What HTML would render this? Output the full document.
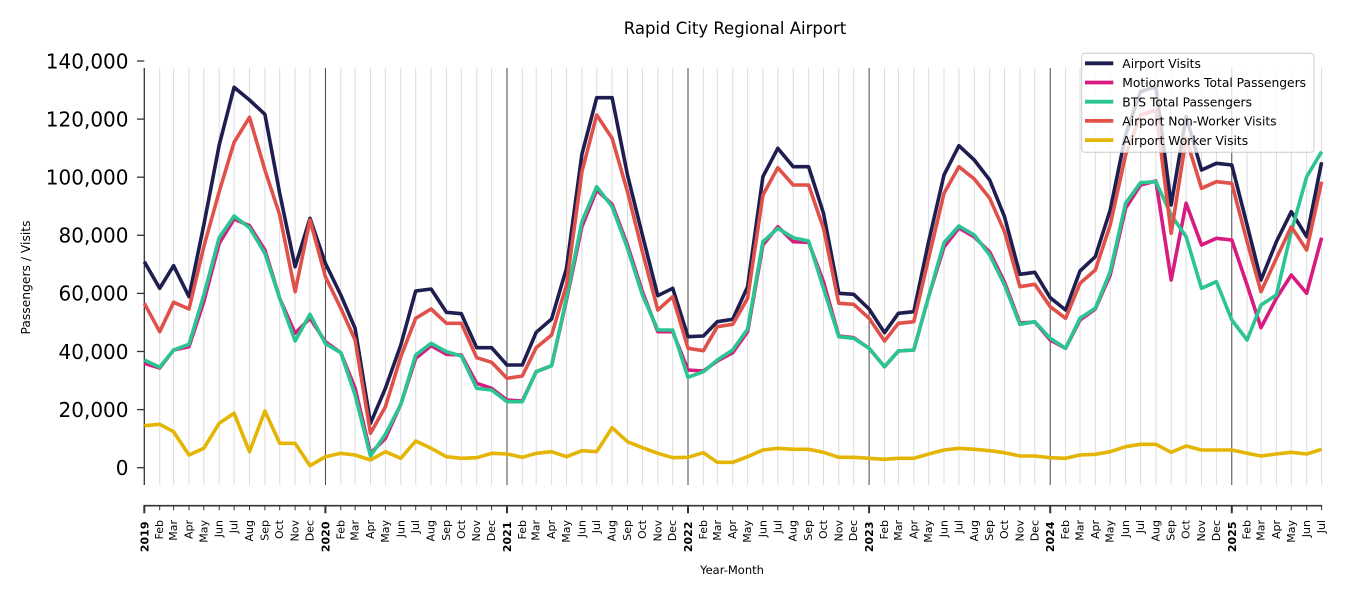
<!DOCTYPE html>
<html>
<head>
<meta charset="utf-8">
<style>
html,body{margin:0;padding:0;background:#fff;}
svg{display:block;}
text{font-family:"DejaVu Sans","Liberation Sans",sans-serif;fill:#000;}
</style>
</head>
<body>
<svg width="1350" height="600" viewBox="0 0 1350 600" xmlns="http://www.w3.org/2000/svg">
<rect x="0" y="0" width="1350" height="600" fill="#fff"/>

<!-- Title -->
<text x="735" y="34" font-size="16.5" text-anchor="middle">Rapid City Regional Airport</text>

<!-- month gridlines -->
<g stroke="#dcdcdc" stroke-width="1">
<line x1="159.7" y1="68" x2="159.7" y2="485"/><line x1="173.6" y1="68" x2="173.6" y2="485"/><line x1="189.0" y1="68" x2="189.0" y2="485"/><line x1="203.8" y1="68" x2="203.8" y2="485"/><line x1="219.2" y1="68" x2="219.2" y2="485"/><line x1="234.1" y1="68" x2="234.1" y2="485"/><line x1="249.5" y1="68" x2="249.5" y2="485"/><line x1="264.9" y1="68" x2="264.9" y2="485"/><line x1="279.7" y1="68" x2="279.7" y2="485"/><line x1="295.1" y1="68" x2="295.1" y2="485"/><line x1="310.0" y1="68" x2="310.0" y2="485"/>
<line x1="340.8" y1="68" x2="340.8" y2="485"/><line x1="355.1" y1="68" x2="355.1" y2="485"/><line x1="370.5" y1="68" x2="370.5" y2="485"/><line x1="385.4" y1="68" x2="385.4" y2="485"/><line x1="400.8" y1="68" x2="400.8" y2="485"/><line x1="415.7" y1="68" x2="415.7" y2="485"/><line x1="431.1" y1="68" x2="431.1" y2="485"/><line x1="446.4" y1="68" x2="446.4" y2="485"/><line x1="461.3" y1="68" x2="461.3" y2="485"/><line x1="476.7" y1="68" x2="476.7" y2="485"/><line x1="491.6" y1="68" x2="491.6" y2="485"/>
<line x1="522.3" y1="68" x2="522.3" y2="485"/><line x1="536.2" y1="68" x2="536.2" y2="485"/><line x1="551.6" y1="68" x2="551.6" y2="485"/><line x1="566.5" y1="68" x2="566.5" y2="485"/><line x1="581.9" y1="68" x2="581.9" y2="485"/><line x1="596.7" y1="68" x2="596.7" y2="485"/><line x1="612.1" y1="68" x2="612.1" y2="485"/><line x1="627.5" y1="68" x2="627.5" y2="485"/><line x1="642.4" y1="68" x2="642.4" y2="485"/><line x1="657.8" y1="68" x2="657.8" y2="485"/><line x1="672.7" y1="68" x2="672.7" y2="485"/>
<line x1="703.4" y1="68" x2="703.4" y2="485"/><line x1="717.3" y1="68" x2="717.3" y2="485"/><line x1="732.7" y1="68" x2="732.7" y2="485"/><line x1="747.6" y1="68" x2="747.6" y2="485"/><line x1="762.9" y1="68" x2="762.9" y2="485"/><line x1="777.8" y1="68" x2="777.8" y2="485"/><line x1="793.2" y1="68" x2="793.2" y2="485"/><line x1="808.6" y1="68" x2="808.6" y2="485"/><line x1="823.5" y1="68" x2="823.5" y2="485"/><line x1="838.8" y1="68" x2="838.8" y2="485"/><line x1="853.7" y1="68" x2="853.7" y2="485"/>
<line x1="884.5" y1="68" x2="884.5" y2="485"/><line x1="898.4" y1="68" x2="898.4" y2="485"/><line x1="913.8" y1="68" x2="913.8" y2="485"/><line x1="928.6" y1="68" x2="928.6" y2="485"/><line x1="944.0" y1="68" x2="944.0" y2="485"/><line x1="958.9" y1="68" x2="958.9" y2="485"/><line x1="974.3" y1="68" x2="974.3" y2="485"/><line x1="989.7" y1="68" x2="989.7" y2="485"/><line x1="1004.5" y1="68" x2="1004.5" y2="485"/><line x1="1019.9" y1="68" x2="1019.9" y2="485"/><line x1="1034.8" y1="68" x2="1034.8" y2="485"/>
<line x1="1065.6" y1="68" x2="1065.6" y2="485"/><line x1="1080.0" y1="68" x2="1080.0" y2="485"/><line x1="1095.3" y1="68" x2="1095.3" y2="485"/><line x1="1110.2" y1="68" x2="1110.2" y2="485"/><line x1="1125.6" y1="68" x2="1125.6" y2="485"/><line x1="1140.5" y1="68" x2="1140.5" y2="485"/><line x1="1155.9" y1="68" x2="1155.9" y2="485"/><line x1="1171.2" y1="68" x2="1171.2" y2="485"/><line x1="1186.1" y1="68" x2="1186.1" y2="485"/><line x1="1201.5" y1="68" x2="1201.5" y2="485"/><line x1="1216.4" y1="68" x2="1216.4" y2="485"/>
<line x1="1247.1" y1="68" x2="1247.1" y2="485"/><line x1="1261.0" y1="68" x2="1261.0" y2="485"/><line x1="1276.4" y1="68" x2="1276.4" y2="485"/><line x1="1291.3" y1="68" x2="1291.3" y2="485"/><line x1="1306.7" y1="68" x2="1306.7" y2="485"/><line x1="1321.6" y1="68" x2="1321.6" y2="485"/>
</g>
<!-- year lines -->
<g stroke="#333" stroke-width="0.9">
<line x1="325.4" y1="68" x2="325.4" y2="485"/><line x1="507.0" y1="68" x2="507.0" y2="485"/><line x1="688.0" y1="68" x2="688.0" y2="485"/><line x1="869.1" y1="68" x2="869.1" y2="485"/><line x1="1050.2" y1="68" x2="1050.2" y2="485"/><line x1="1231.8" y1="68" x2="1231.8" y2="485"/>
</g>

<!-- left spine and y ticks -->
<g stroke="#333" stroke-width="1.3">
<line x1="144.3" y1="68" x2="144.3" y2="485"/>
<line x1="137" y1="467.7" x2="144.3" y2="467.7"/>
<line x1="137" y1="409.6" x2="144.3" y2="409.6"/>
<line x1="137" y1="351.5" x2="144.3" y2="351.5"/>
<line x1="137" y1="293.4" x2="144.3" y2="293.4"/>
<line x1="137" y1="235.3" x2="144.3" y2="235.3"/>
<line x1="137" y1="177.2" x2="144.3" y2="177.2"/>
<line x1="137" y1="119.1" x2="144.3" y2="119.1"/>
<line x1="137" y1="61.0" x2="144.3" y2="61.0"/>
</g>
<g font-size="20" text-anchor="end">
<text x="128.5" y="475.0">0</text>
<text x="128.5" y="416.9">20,000</text>
<text x="128.5" y="358.8">40,000</text>
<text x="128.5" y="300.7">60,000</text>
<text x="128.5" y="242.6">80,000</text>
<text x="128.5" y="184.5">100,000</text>
<text x="128.5" y="126.4">120,000</text>
<text x="128.5" y="68.3">140,000</text>
</g>
<text transform="translate(30,277.5) rotate(-90)" font-size="12.3" text-anchor="middle">Passengers / Visits</text>

<!-- series -->
<g fill="none" stroke-width="3.6" stroke-linejoin="round" stroke-linecap="butt">
<polyline stroke="#1e1f50" points="144.3,261.7 159.7,288.3 173.6,265.7 189.0,296.7 203.8,225 219.2,145 234.1,87.3 249.5,100 264.9,114.3 279.7,193.3 295.1,266.7 310.0,218.3 325.4,263.3 340.8,295 355.1,328.3 370.5,423.3 385.4,388.3 400.8,345 415.7,291 431.1,289 446.4,312.3 461.3,313.7 476.7,347.7 491.6,347.7 507.0,365 522.3,365 536.2,332.3 551.6,319 566.5,268.3 581.9,154.3 596.7,97.7 612.1,97.7 627.5,175 642.4,235 657.8,295.7 672.7,288.3 688.0,336.7 703.4,336 717.3,321.7 732.7,319.3 747.6,286.7 762.9,176.7 777.8,148.3 793.2,166.7 808.6,166.7 823.5,213.3 838.8,293.3 853.7,294.3 869.1,309 884.5,332.7 898.4,313.3 913.8,311.7 928.6,241.7 944.0,175 958.9,145.7 974.3,160 989.7,180 1004.5,216.7 1019.9,274.3 1034.8,272.3 1050.2,297.7 1065.6,310 1080.0,271 1095.3,256.7 1110.2,210 1125.6,135 1140.5,91.7 1155.9,86.7 1171.2,205 1186.1,116.7 1201.5,170 1216.4,163.3 1231.8,165 1247.1,225 1261.0,280 1276.4,241.7 1291.3,211.7 1306.7,236.7 1321.6,162.3"/>
<polyline stroke="#d81b80" points="144.3,363.3 159.7,368 173.6,350 189.0,346.7 203.8,301.7 219.2,243.3 234.1,219 249.5,225.7 264.9,250 279.7,298.3 295.1,333.3 310.0,318.3 325.4,341.7 340.8,352.7 355.1,388.3 370.5,453.3 385.4,438.3 400.8,404.3 415.7,358.3 431.1,345.7 446.4,354.3 461.3,355 476.7,383.3 491.6,388.3 507.0,400 522.3,401 536.2,371.7 551.6,365.7 566.5,300 581.9,226.7 596.7,190 612.1,204.3 627.5,245 642.4,291.7 657.8,331.7 672.7,331.7 688.0,370 703.4,371 717.3,361 732.7,352.7 747.6,331.7 762.9,245 777.8,226.7 793.2,241.7 808.6,242.3 823.5,281.7 838.8,336 853.7,337.7 869.1,348.3 884.5,366.7 898.4,351 913.8,350 928.6,296.7 944.0,247 958.9,228 974.3,237 989.7,252 1004.5,282 1019.9,323 1034.8,322 1050.2,340 1065.6,348.3 1080.0,320 1095.3,309 1110.2,275 1125.6,208.3 1140.5,185 1155.9,181 1171.2,280 1186.1,203.3 1201.5,245 1216.4,238.3 1231.8,240 1247.1,285 1261.0,327.7 1276.4,298.3 1291.3,275 1306.7,293.3 1321.6,237.7"/>
<polyline stroke="#2bc493" points="144.3,360 159.7,367.3 173.6,350 189.0,344.3 203.8,295 219.2,237.7 234.1,216 249.5,227.7 264.9,253.3 279.7,298.3 295.1,341 310.0,314.3 325.4,343.7 340.8,352.7 355.1,395 370.5,456 385.4,434.3 400.8,404.3 415.7,355 431.1,343.3 446.4,351.7 461.3,356 476.7,388.3 491.6,390 507.0,401.7 522.3,401.7 536.2,371.7 551.6,365.7 566.5,298 581.9,221.7 596.7,186.7 612.1,206.7 627.5,248.3 642.4,295 657.8,330 672.7,330 688.0,377.3 703.4,371.7 717.3,360 732.7,350 747.6,329 762.9,241.7 777.8,228.3 793.2,237.7 808.6,241 823.5,288.3 838.8,336.7 853.7,338.3 869.1,348.3 884.5,366.7 898.4,351 913.8,350 928.6,296.7 944.0,242.7 958.9,226 974.3,235 989.7,255 1004.5,285 1019.9,324.3 1034.8,321.7 1050.2,338.3 1065.6,348.3 1080.0,318.3 1095.3,308.3 1110.2,271.7 1125.6,203.3 1140.5,182.7 1155.9,181.7 1171.2,215 1186.1,236.7 1201.5,288.3 1216.4,281.7 1231.8,320 1247.1,340 1261.0,305 1276.4,295 1291.3,231.7 1306.7,176.7 1321.6,151.7"/>
<polyline stroke="#e0514a" points="144.3,303.3 159.7,331.7 173.6,302.3 189.0,309 203.8,246.7 219.2,191.7 234.1,142.3 249.5,117.3 264.9,170 279.7,215 295.1,291.7 310.0,220 325.4,276.7 340.8,308.3 355.1,340 370.5,433.3 385.4,406.7 400.8,356.7 415.7,318.3 431.1,309 446.4,323.3 461.3,323.3 476.7,357.7 491.6,362.3 507.0,378.3 522.3,376 536.2,347.7 551.6,335 566.5,285 581.9,171.7 596.7,115 612.1,138.3 627.5,191.7 642.4,251.7 657.8,310 672.7,296.7 688.0,348.3 703.4,350.7 717.3,326.7 732.7,324.3 747.6,298.3 762.9,195 777.8,167.7 793.2,185 808.6,185 823.5,228.3 838.8,303.3 853.7,304.3 869.1,318.3 884.5,341 898.4,323.3 913.8,321.7 928.6,258.3 944.0,193.3 958.9,166.7 974.3,179 989.7,198.3 1004.5,231.7 1019.9,286.7 1034.8,284.3 1050.2,306.7 1065.6,318.3 1080.0,283.3 1095.3,270 1110.2,225 1125.6,155 1140.5,115 1155.9,110 1171.2,233.3 1186.1,138.3 1201.5,188.3 1216.4,181.7 1231.8,183.3 1247.1,241.7 1261.0,291.7 1276.4,258.3 1291.3,226.7 1306.7,250 1321.6,181.7"/>
<polyline stroke="#e4b505" points="144.3,425.7 159.7,424.3 173.6,431.7 189.0,455 203.8,448.3 219.2,423.3 234.1,413.3 249.5,451.7 264.9,411 279.7,443.3 295.1,443.3 310.0,465.7 325.4,456.7 340.8,453.3 355.1,455 370.5,460 385.4,451.7 400.8,458.3 415.7,441 431.1,448.3 446.4,456.7 461.3,458.3 476.7,457.7 491.6,453.3 507.0,454 522.3,457.3 536.2,453.3 551.6,451.7 566.5,456.7 581.9,450.7 596.7,451.7 612.1,427.7 627.5,441.7 642.4,447.7 657.8,453.3 672.7,457.7 688.0,457.3 703.4,452.7 717.3,462.3 732.7,462.3 747.6,456.7 762.9,450 777.8,448.3 793.2,449.3 808.6,449.3 823.5,452.3 838.8,457.3 853.7,457.3 869.1,458.3 884.5,459.3 898.4,458.3 913.8,458.3 928.6,454 944.0,450 958.9,448.3 974.3,449.3 989.7,450.7 1004.5,452.7 1019.9,456 1034.8,456 1050.2,457.7 1065.6,458.3 1080.0,455 1095.3,454.3 1110.2,451.7 1125.6,446.7 1140.5,444.3 1155.9,444.3 1171.2,452.3 1186.1,446 1201.5,450 1216.4,450 1231.8,450 1247.1,453.3 1261.0,456 1276.4,454 1291.3,452.3 1306.7,454 1321.6,449.3"/>
</g>

<!-- legend -->
<rect x="1081.7" y="53.3" width="232.3" height="99" rx="3" ry="3" fill="#fff" fill-opacity="0.8" stroke="#cccccc" stroke-width="1"/>
<g stroke-width="3.8">
<line x1="1085" y1="63.3" x2="1113.3" y2="63.3" stroke="#1e1f50"/>
<line x1="1085" y1="82.5" x2="1113.3" y2="82.5" stroke="#d81b80"/>
<line x1="1085" y1="101.7" x2="1113.3" y2="101.7" stroke="#2bc493"/>
<line x1="1085" y1="120.9" x2="1113.3" y2="120.9" stroke="#e0514a"/>
<line x1="1085" y1="140.1" x2="1113.3" y2="140.1" stroke="#e4b505"/>
</g>
<g font-size="12.3">
<text x="1122.3" y="68.0">Airport Visits</text>
<text x="1122.3" y="87.2">Motionworks Total Passengers</text>
<text x="1122.3" y="106.4">BTS Total Passengers</text>
<text x="1122.3" y="125.6">Airport Non-Worker Visits</text>
<text x="1122.3" y="144.8">Airport Worker Visits</text>
</g>

<!-- bottom spine + ticks -->
<line x1="143.5" y1="505.7" x2="1322.2" y2="505.7" stroke="#333" stroke-width="1.6"/>
<g stroke="#333" stroke-width="1">
<line x1="159.7" y1="505.7" x2="159.7" y2="510.3"/><line x1="173.6" y1="505.7" x2="173.6" y2="510.3"/><line x1="189.0" y1="505.7" x2="189.0" y2="510.3"/><line x1="203.8" y1="505.7" x2="203.8" y2="510.3"/><line x1="219.2" y1="505.7" x2="219.2" y2="510.3"/><line x1="234.1" y1="505.7" x2="234.1" y2="510.3"/><line x1="249.5" y1="505.7" x2="249.5" y2="510.3"/><line x1="264.9" y1="505.7" x2="264.9" y2="510.3"/><line x1="279.7" y1="505.7" x2="279.7" y2="510.3"/><line x1="295.1" y1="505.7" x2="295.1" y2="510.3"/><line x1="310.0" y1="505.7" x2="310.0" y2="510.3"/>
<line x1="340.8" y1="505.7" x2="340.8" y2="510.3"/><line x1="355.1" y1="505.7" x2="355.1" y2="510.3"/><line x1="370.5" y1="505.7" x2="370.5" y2="510.3"/><line x1="385.4" y1="505.7" x2="385.4" y2="510.3"/><line x1="400.8" y1="505.7" x2="400.8" y2="510.3"/><line x1="415.7" y1="505.7" x2="415.7" y2="510.3"/><line x1="431.1" y1="505.7" x2="431.1" y2="510.3"/><line x1="446.4" y1="505.7" x2="446.4" y2="510.3"/><line x1="461.3" y1="505.7" x2="461.3" y2="510.3"/><line x1="476.7" y1="505.7" x2="476.7" y2="510.3"/><line x1="491.6" y1="505.7" x2="491.6" y2="510.3"/>
<line x1="522.3" y1="505.7" x2="522.3" y2="510.3"/><line x1="536.2" y1="505.7" x2="536.2" y2="510.3"/><line x1="551.6" y1="505.7" x2="551.6" y2="510.3"/><line x1="566.5" y1="505.7" x2="566.5" y2="510.3"/><line x1="581.9" y1="505.7" x2="581.9" y2="510.3"/><line x1="596.7" y1="505.7" x2="596.7" y2="510.3"/><line x1="612.1" y1="505.7" x2="612.1" y2="510.3"/><line x1="627.5" y1="505.7" x2="627.5" y2="510.3"/><line x1="642.4" y1="505.7" x2="642.4" y2="510.3"/><line x1="657.8" y1="505.7" x2="657.8" y2="510.3"/><line x1="672.7" y1="505.7" x2="672.7" y2="510.3"/>
<line x1="703.4" y1="505.7" x2="703.4" y2="510.3"/><line x1="717.3" y1="505.7" x2="717.3" y2="510.3"/><line x1="732.7" y1="505.7" x2="732.7" y2="510.3"/><line x1="747.6" y1="505.7" x2="747.6" y2="510.3"/><line x1="762.9" y1="505.7" x2="762.9" y2="510.3"/><line x1="777.8" y1="505.7" x2="777.8" y2="510.3"/><line x1="793.2" y1="505.7" x2="793.2" y2="510.3"/><line x1="808.6" y1="505.7" x2="808.6" y2="510.3"/><line x1="823.5" y1="505.7" x2="823.5" y2="510.3"/><line x1="838.8" y1="505.7" x2="838.8" y2="510.3"/><line x1="853.7" y1="505.7" x2="853.7" y2="510.3"/>
<line x1="884.5" y1="505.7" x2="884.5" y2="510.3"/><line x1="898.4" y1="505.7" x2="898.4" y2="510.3"/><line x1="913.8" y1="505.7" x2="913.8" y2="510.3"/><line x1="928.6" y1="505.7" x2="928.6" y2="510.3"/><line x1="944.0" y1="505.7" x2="944.0" y2="510.3"/><line x1="958.9" y1="505.7" x2="958.9" y2="510.3"/><line x1="974.3" y1="505.7" x2="974.3" y2="510.3"/><line x1="989.7" y1="505.7" x2="989.7" y2="510.3"/><line x1="1004.5" y1="505.7" x2="1004.5" y2="510.3"/><line x1="1019.9" y1="505.7" x2="1019.9" y2="510.3"/><line x1="1034.8" y1="505.7" x2="1034.8" y2="510.3"/>
<line x1="1065.6" y1="505.7" x2="1065.6" y2="510.3"/><line x1="1080.0" y1="505.7" x2="1080.0" y2="510.3"/><line x1="1095.3" y1="505.7" x2="1095.3" y2="510.3"/><line x1="1110.2" y1="505.7" x2="1110.2" y2="510.3"/><line x1="1125.6" y1="505.7" x2="1125.6" y2="510.3"/><line x1="1140.5" y1="505.7" x2="1140.5" y2="510.3"/><line x1="1155.9" y1="505.7" x2="1155.9" y2="510.3"/><line x1="1171.2" y1="505.7" x2="1171.2" y2="510.3"/><line x1="1186.1" y1="505.7" x2="1186.1" y2="510.3"/><line x1="1201.5" y1="505.7" x2="1201.5" y2="510.3"/><line x1="1216.4" y1="505.7" x2="1216.4" y2="510.3"/>
<line x1="1247.1" y1="505.7" x2="1247.1" y2="510.3"/><line x1="1261.0" y1="505.7" x2="1261.0" y2="510.3"/><line x1="1276.4" y1="505.7" x2="1276.4" y2="510.3"/><line x1="1291.3" y1="505.7" x2="1291.3" y2="510.3"/><line x1="1306.7" y1="505.7" x2="1306.7" y2="510.3"/><line x1="1321.6" y1="505.7" x2="1321.6" y2="510.3"/>
</g>
<g stroke="#333" stroke-width="2">
<line x1="144.3" y1="505.7" x2="144.3" y2="513.3"/><line x1="325.4" y1="505.7" x2="325.4" y2="513.3"/><line x1="507.0" y1="505.7" x2="507.0" y2="513.3"/><line x1="688.0" y1="505.7" x2="688.0" y2="513.3"/><line x1="869.1" y1="505.7" x2="869.1" y2="513.3"/><line x1="1050.2" y1="505.7" x2="1050.2" y2="513.3"/><line x1="1231.8" y1="505.7" x2="1231.8" y2="513.3"/>
</g>

<!-- x tick labels -->
<g font-size="11" text-anchor="end">
<text transform="translate(144.3,521.5) rotate(-90)" y="4" font-weight="bold">2019</text>
<text transform="translate(159.7,520) rotate(-90)" y="3.5">Feb</text>
<text transform="translate(173.6,520) rotate(-90)" y="3.5">Mar</text>
<text transform="translate(189.0,520) rotate(-90)" y="3.5">Apr</text>
<text transform="translate(203.8,520) rotate(-90)" y="3.5">May</text>
<text transform="translate(219.2,520) rotate(-90)" y="3.5">Jun</text>
<text transform="translate(234.1,520) rotate(-90)" y="3.5">Jul</text>
<text transform="translate(249.5,520) rotate(-90)" y="3.5">Aug</text>
<text transform="translate(264.9,520) rotate(-90)" y="3.5">Sep</text>
<text transform="translate(279.7,520) rotate(-90)" y="3.5">Oct</text>
<text transform="translate(295.1,520) rotate(-90)" y="3.5">Nov</text>
<text transform="translate(310.0,520) rotate(-90)" y="3.5">Dec</text>
<text transform="translate(325.4,521.5) rotate(-90)" y="4" font-weight="bold">2020</text>
<text transform="translate(340.8,520) rotate(-90)" y="3.5">Feb</text>
<text transform="translate(355.1,520) rotate(-90)" y="3.5">Mar</text>
<text transform="translate(370.5,520) rotate(-90)" y="3.5">Apr</text>
<text transform="translate(385.4,520) rotate(-90)" y="3.5">May</text>
<text transform="translate(400.8,520) rotate(-90)" y="3.5">Jun</text>
<text transform="translate(415.7,520) rotate(-90)" y="3.5">Jul</text>
<text transform="translate(431.1,520) rotate(-90)" y="3.5">Aug</text>
<text transform="translate(446.4,520) rotate(-90)" y="3.5">Sep</text>
<text transform="translate(461.3,520) rotate(-90)" y="3.5">Oct</text>
<text transform="translate(476.7,520) rotate(-90)" y="3.5">Nov</text>
<text transform="translate(491.6,520) rotate(-90)" y="3.5">Dec</text>
<text transform="translate(507.0,521.5) rotate(-90)" y="4" font-weight="bold">2021</text>
<text transform="translate(522.3,520) rotate(-90)" y="3.5">Feb</text>
<text transform="translate(536.2,520) rotate(-90)" y="3.5">Mar</text>
<text transform="translate(551.6,520) rotate(-90)" y="3.5">Apr</text>
<text transform="translate(566.5,520) rotate(-90)" y="3.5">May</text>
<text transform="translate(581.9,520) rotate(-90)" y="3.5">Jun</text>
<text transform="translate(596.7,520) rotate(-90)" y="3.5">Jul</text>
<text transform="translate(612.1,520) rotate(-90)" y="3.5">Aug</text>
<text transform="translate(627.5,520) rotate(-90)" y="3.5">Sep</text>
<text transform="translate(642.4,520) rotate(-90)" y="3.5">Oct</text>
<text transform="translate(657.8,520) rotate(-90)" y="3.5">Nov</text>
<text transform="translate(672.7,520) rotate(-90)" y="3.5">Dec</text>
<text transform="translate(688.0,521.5) rotate(-90)" y="4" font-weight="bold">2022</text>
<text transform="translate(703.4,520) rotate(-90)" y="3.5">Feb</text>
<text transform="translate(717.3,520) rotate(-90)" y="3.5">Mar</text>
<text transform="translate(732.7,520) rotate(-90)" y="3.5">Apr</text>
<text transform="translate(747.6,520) rotate(-90)" y="3.5">May</text>
<text transform="translate(762.9,520) rotate(-90)" y="3.5">Jun</text>
<text transform="translate(777.8,520) rotate(-90)" y="3.5">Jul</text>
<text transform="translate(793.2,520) rotate(-90)" y="3.5">Aug</text>
<text transform="translate(808.6,520) rotate(-90)" y="3.5">Sep</text>
<text transform="translate(823.5,520) rotate(-90)" y="3.5">Oct</text>
<text transform="translate(838.8,520) rotate(-90)" y="3.5">Nov</text>
<text transform="translate(853.7,520) rotate(-90)" y="3.5">Dec</text>
<text transform="translate(869.1,521.5) rotate(-90)" y="4" font-weight="bold">2023</text>
<text transform="translate(884.5,520) rotate(-90)" y="3.5">Feb</text>
<text transform="translate(898.4,520) rotate(-90)" y="3.5">Mar</text>
<text transform="translate(913.8,520) rotate(-90)" y="3.5">Apr</text>
<text transform="translate(928.6,520) rotate(-90)" y="3.5">May</text>
<text transform="translate(944.0,520) rotate(-90)" y="3.5">Jun</text>
<text transform="translate(958.9,520) rotate(-90)" y="3.5">Jul</text>
<text transform="translate(974.3,520) rotate(-90)" y="3.5">Aug</text>
<text transform="translate(989.7,520) rotate(-90)" y="3.5">Sep</text>
<text transform="translate(1004.5,520) rotate(-90)" y="3.5">Oct</text>
<text transform="translate(1019.9,520) rotate(-90)" y="3.5">Nov</text>
<text transform="translate(1034.8,520) rotate(-90)" y="3.5">Dec</text>
<text transform="translate(1050.2,521.5) rotate(-90)" y="4" font-weight="bold">2024</text>
<text transform="translate(1065.6,520) rotate(-90)" y="3.5">Feb</text>
<text transform="translate(1080.0,520) rotate(-90)" y="3.5">Mar</text>
<text transform="translate(1095.3,520) rotate(-90)" y="3.5">Apr</text>
<text transform="translate(1110.2,520) rotate(-90)" y="3.5">May</text>
<text transform="translate(1125.6,520) rotate(-90)" y="3.5">Jun</text>
<text transform="translate(1140.5,520) rotate(-90)" y="3.5">Jul</text>
<text transform="translate(1155.9,520) rotate(-90)" y="3.5">Aug</text>
<text transform="translate(1171.2,520) rotate(-90)" y="3.5">Sep</text>
<text transform="translate(1186.1,520) rotate(-90)" y="3.5">Oct</text>
<text transform="translate(1201.5,520) rotate(-90)" y="3.5">Nov</text>
<text transform="translate(1216.4,520) rotate(-90)" y="3.5">Dec</text>
<text transform="translate(1231.8,521.5) rotate(-90)" y="4" font-weight="bold">2025</text>
<text transform="translate(1247.1,520) rotate(-90)" y="3.5">Feb</text>
<text transform="translate(1261.0,520) rotate(-90)" y="3.5">Mar</text>
<text transform="translate(1276.4,520) rotate(-90)" y="3.5">Apr</text>
<text transform="translate(1291.3,520) rotate(-90)" y="3.5">May</text>
<text transform="translate(1306.7,520) rotate(-90)" y="3.5">Jun</text>
<text transform="translate(1321.6,520) rotate(-90)" y="3.5">Jul</text>
</g>

<text x="732" y="574" font-size="11.5" text-anchor="middle">Year-Month</text>
</svg>
</body>
</html>
